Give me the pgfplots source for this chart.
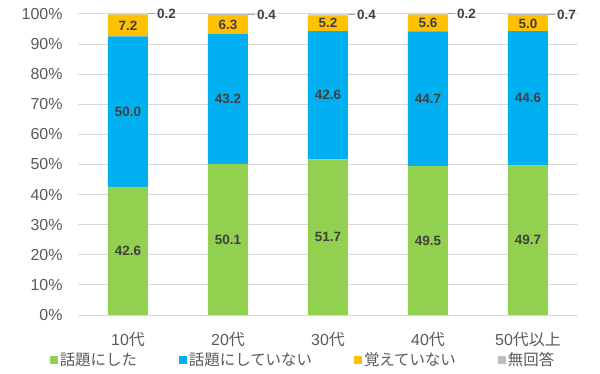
\documentclass[border=0pt]{standalone}
\usepackage{pgfplots}
\usepackage{pgfplotstable}
\pgfplotsset{compat=1.18}
\usepackage{fontspec}
\setmainfont{Liberation Sans}
\newfontfamily\cjk{Noto Sans CJK JP}
\definecolor{cgreen}{HTML}{92D050}
\definecolor{cblue}{HTML}{00B0F0}
\definecolor{corange}{HTML}{FFC000}
\definecolor{cgray}{HTML}{BFBFBF}
\definecolor{tickgray}{HTML}{595959}
\definecolor{lblgray}{HTML}{404040}
\definecolor{gridgray}{HTML}{D9D9D9}
\definecolor{leader}{HTML}{A6A6A6}
\newcommand\dai{{\cjk 代}}
\pgfplotstableread{
x a b c d
0 42.6 50.0 7.2 0.2
1 50.1 43.2 6.3 0.4
2 51.7 42.6 5.2 0.4
3 49.5 44.7 5.6 0.2
4 49.7 44.6 5.0 0.7
}\data
\begin{document}
\begin{tikzpicture}
\useasboundingbox (-78bp,-59bp) rectangle (522bp,315bp);
\begin{axis}[
  scale only axis, width=500bp, height=301bp,
  ybar stacked, bar width=40bp,
  xmin=-0.5, xmax=4.5, ymin=0, ymax=100,
  xtick={0,...,4},
  xticklabels={10\dai,20\dai,30\dai,40\dai,50{\cjk 代以上}},
  ytick={0,10,...,100},
  yticklabels={0\%,10\%,20\%,30\%,40\%,50\%,60\%,70\%,80\%,90\%,100\%},
  axis line style={draw=none},
  major tick length=0pt,
  ymajorgrids, grid style={draw=gridgray, line width=1bp},
  tick label style={font=\fontsize{16}{18}\selectfont, text=tickgray},
  xticklabel style={yshift=-14bp},
  yticklabel style={xshift=-12bp},
  legend style={at={(axis description cs:0.45,0)}, yshift=-45bp, anchor=center,
    draw=none, fill=none, legend columns=4,
    font=\cjk\fontsize{15.5}{17}\selectfont, text=tickgray,
    /tikz/every even column/.append style={column sep=40bp},
    /tikz/every odd column/.append style={column sep=0bp}},
  legend image code/.code={\fill (0bp,-4bp) rectangle (8bp,4bp);},
  every node near coord/.append style={font=\bfseries\fontsize{13.5}{15}\selectfont, text=lblgray},
  /pgf/number format/assume math mode=true,
]
\pgfplotsset{mid/.style={nodes near coords={\pgfmathprintnumber[fixed,fixed zerofill,precision=1,assume math mode=true]{\pgfplotspointmeta}},
    every node near coord/.append style={anchor=center}}}
\addplot[fill=cgreen, draw=none, mid] table[x=x,y=a]{\data};
\addplot[fill=cblue, draw=none, mid] table[x=x,y=b]{\data};
\addplot[fill=corange, draw=none, mid] table[x=x,y=c]{\data};
\addplot[fill=cgray, draw=none,
  nodes near coords={\textcolor{leader}{\rule[0.35em]{7bp}{0.8bp}}\hspace{2bp}\pgfmathprintnumber[fixed,fixed zerofill,precision=1,assume math mode=true]{\pgfplotspointmeta}},
  every node near coord/.append style={anchor=west, xshift=20bp, inner sep=0pt}] table[x=x,y=d]{\data};
\legend{話題にした,話題にしていない,覚えていない,無回答}
\end{axis}
\end{tikzpicture}
\end{document}
